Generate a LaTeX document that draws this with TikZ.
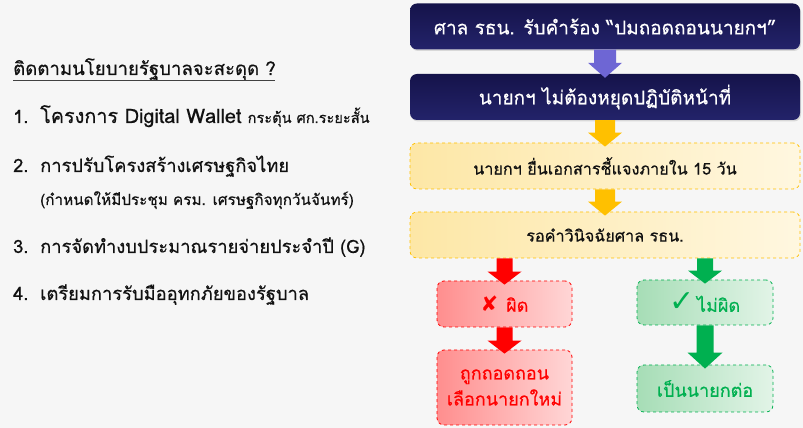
\documentclass[tikz,border=0pt]{standalone}
\usepackage{fontspec}
\setmainfont[Script=Thai,FakeBold=0.5]{Loma}
\newfontfamily\symfont{DejaVu Sans}
\usetikzlibrary{calc,shadows}
\definecolor{bgc}{HTML}{F6F6F6}
\definecolor{navyA}{HTML}{15134A}
\definecolor{navyB}{HTML}{23236A}
\definecolor{purpA}{HTML}{6E66D4}
\definecolor{yelA}{HTML}{FFC000}
\definecolor{yelF1}{HTML}{FDE7A6}
\definecolor{yelF2}{HTML}{FFF7E0}
\definecolor{redA}{HTML}{FF0000}
\definecolor{redF1}{HTML}{FF8E8E}
\definecolor{redF2}{HTML}{FFD6D6}
\definecolor{grnA}{HTML}{00B050}
\definecolor{grnF1}{HTML}{A6DDB6}
\definecolor{grnF2}{HTML}{E2F4E7}
\definecolor{txt}{HTML}{111111}
\tikzset{
  navybox/.style={rounded corners=7pt, minimum width=390pt, minimum height=46pt,
    top color=navyA, bottom color=navyB, text=white, font=\fontsize{19}{22}\selectfont,
    drop shadow={opacity=0.25, shadow xshift=1pt, shadow yshift=-1.5pt}},
  yelbox/.style={rounded corners=7pt, minimum width=390pt, minimum height=46pt,
    draw=yelA, dashed, line width=0.8pt, left color=yelF1, right color=yelF2,
    text=txt, font=\fontsize{16.2}{22}\selectfont},
  redbox/.style={rounded corners=7pt, minimum width=135pt, draw=redA, dashed, line width=0.8pt,
    left color=redF1, right color=redF2, text=redA, align=center,
    font=\fontsize{18}{26}\selectfont},
  grnbox/.style={rounded corners=7pt, minimum width=136pt, draw=grnA, dashed, line width=0.8pt,
    left color=grnF1, right color=grnF2, text=grnA, align=center,
    font=\fontsize{18}{26}\selectfont},
  item/.style={anchor=base west, inner sep=0pt, text=txt, font=\fontsize{18.3}{20}\selectfont},
  small/.style={anchor=base west, inner sep=0pt, text=txt, font=\fontsize{15.3}{16}\selectfont},
}
% block arrow: color, from node, to node, shaft half, head half, head length
\newcommand\blockarr[6]{%
  \fill[#1] let \p1=(#2.south), \p2=(#3.north) in
    (\x2-#4pt,\y1) -- (\x2+#4pt,\y1) -- (\x2+#4pt,\y2-4pt+#6pt) -- (\x2+#5pt,\y2-4pt+#6pt)
    -- (\x2,\y2-4pt) -- (\x2-#5pt,\y2-4pt+#6pt) -- (\x2-#4pt,\y2-4pt+#6pt) -- cycle;}
\begin{document}
\begin{tikzpicture}[x=1pt,y=1pt]
\fill[bgc] (0,0) rectangle (803,428);
\useasboundingbox (0,0) rectangle (803,428);

% left list
\node[item, font=\fontsize{18.6}{20}\selectfont] (title) at (13,353) {ติดตามนโยบายรัฐบาลจะสะดุด ?};
\coordinate (ulA) at (13,348);
\coordinate (ulB) at (275,348);
\draw[txt!80, line width=0.7pt] (ulA) -- (ulB);
\node[item] (n1) at (13,305) {1.};
\node[item] (i1) at (40,305) {{\fontsize{19.8}{20}\selectfont โครงการ Digital Wallet} \fontsize{14.6}{16}\selectfont กระตุ้น ศก.ระยะสั้น};
\node[item] (n2) at (13,256) {2.};
\node[item] (i2) at (40,256) {การปรับโครงสร้างเศรษฐกิจไทย};
\node[small] (i2b) at (40,223) {(กำหนดให้มีประชุม ครม. เศรษฐกิจทุกวันจันทร์)};
\node[item] (n3) at (13,175) {3.};
\node[item] (i3) at (40,175) {การจัดทำงบประมาณรายจ่ายประจำปี (G)};
\node[item] (n4) at (13,128) {4.};
\node[item] (i4) at (40,128) {เตรียมการรับมืออุทกภัยของรัฐบาล};

% right flow
\node[navybox] (b1) at (605,401.5) {ศาล รธน. รับคำร้อง “ปมถอดถอนนายกฯ”};
\node[navybox] (b2) at (605,331) {นายกฯ ไม่ต้องหยุดปฏิบัติหน้าที่};
\node[yelbox] (b3) at (605,262) {นายกฯ ยื่นเอกสารชี้แจงภายใน 15 วัน};
\node[yelbox] (b4) at (605,193) {รอคำวินิจฉัยศาล รธน.};
\node[redbox, minimum height=46pt] (r1) at (504.5,124) {{\symfont\bfseries\fontsize{21}{18}\selectfont ✘}\hspace{8pt}ผิด};
\node[redbox, minimum height=75pt] (r2) at (504.5,40.5) {ถูกถอดถอน\\เลือกนายกใหม่};
\node[grnbox, minimum height=45pt] (g1) at (705,125.5) {{\symfont\fontsize{30}{22}\selectfont ✓}\hspace{2pt}ไม่ผิด};
\node[grnbox, minimum height=47pt] (g2) at (705,39.5) {เป็นนายกต่อ};

\blockarr{purpA}{b1}{b2}{11}{17}{15}
\blockarr{yelA}{b2}{b3}{10}{17}{14}
\blockarr{yelA}{b3}{b4}{10}{17}{14}
\blockarr{redA}{b4}{r1}{8}{17}{13}
\blockarr{grnA}{b4}{g1}{8}{17}{13}
\blockarr{redA}{r1}{r2}{8}{17}{13}
\blockarr{grnA}{g1}{g2}{8.5}{17.5}{16}
\end{tikzpicture}
\end{document}
